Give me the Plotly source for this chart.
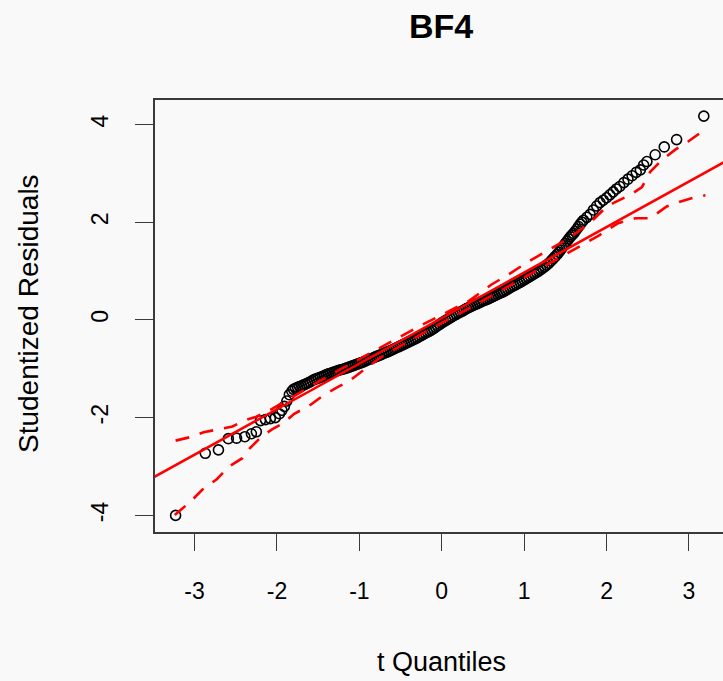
import plotly.graph_objects as go

# t quantiles (theoretical) and sorted studentized residuals
t_quantiles = [
    -3.23, -2.87, -2.71, -2.59, -2.49, -2.39, -2.31, -2.25, -2.20, -2.14,
    -2.08, -2.02, -1.97, -1.94, -1.91, -1.88, -1.85, -1.82,
    -1.800, -1.775, -1.750, -1.725, -1.700, -1.675, -1.650, -1.625, -1.600, -1.575,
    -1.550, -1.525, -1.500, -1.475, -1.450, -1.425, -1.400, -1.375, -1.350, -1.325,
    -1.300, -1.275, -1.250, -1.225, -1.200, -1.175, -1.150, -1.125, -1.100, -1.075,
    -1.050, -1.025, -1.000, -0.975, -0.950, -0.925, -0.900, -0.875, -0.850, -0.825,
    -0.800, -0.775, -0.750, -0.725, -0.700, -0.675, -0.650, -0.625, -0.600, -0.575,
    -0.550, -0.525, -0.500, -0.475, -0.450, -0.425, -0.400, -0.375, -0.350, -0.325,
    -0.300, -0.275, -0.250, -0.225, -0.200, -0.175, -0.150, -0.125, -0.100, -0.075,
    -0.050, -0.025, 0.000, 0.025, 0.050, 0.075, 0.100, 0.125, 0.150, 0.175,
    0.200, 0.225, 0.250, 0.275, 0.300, 0.325, 0.350, 0.375, 0.400, 0.425,
    0.450, 0.475, 0.500, 0.525, 0.550, 0.575, 0.600, 0.625, 0.650, 0.675,
    0.700, 0.725, 0.750, 0.775, 0.800, 0.825, 0.850, 0.875, 0.900, 0.925,
    0.950, 0.975, 1.000, 1.025, 1.050, 1.075, 1.100, 1.125, 1.150, 1.175,
    1.200, 1.225, 1.250, 1.275, 1.300, 1.325, 1.350, 1.375, 1.400, 1.420,
    1.440, 1.460, 1.480, 1.500, 1.520, 1.540, 1.560, 1.580, 1.600, 1.620,
    1.640, 1.660, 1.680, 1.700, 1.720,
    1.76, 1.80, 1.84, 1.88, 1.92, 1.96, 2.00, 2.04, 2.08, 2.12,
    2.16, 2.21, 2.26, 2.31, 2.36, 2.41, 2.45, 2.49, 2.59, 2.70,
    2.85, 3.18,
]
residuals = [
    -4.00, -2.73, -2.66, -2.43, -2.42, -2.39, -2.33, -2.29, -2.06, -2.04,
    -2.02, -2.00, -1.92, -1.85, -1.77, -1.66, -1.53, -1.46,
    -1.420, -1.400, -1.380, -1.365, -1.350, -1.330, -1.310, -1.290, -1.270, -1.245,
    -1.220, -1.205, -1.190, -1.175, -1.160, -1.140, -1.120, -1.105, -1.090, -1.075,
    -1.060, -1.045, -1.030, -1.020, -1.010, -0.995, -0.980, -0.965, -0.950, -0.935,
    -0.920, -0.905, -0.890, -0.875, -0.860, -0.840, -0.820, -0.805, -0.790, -0.770,
    -0.750, -0.735, -0.720, -0.700, -0.680, -0.665, -0.650, -0.630, -0.610, -0.590,
    -0.570, -0.550, -0.530, -0.510, -0.490, -0.470, -0.450, -0.430, -0.410, -0.390,
    -0.370, -0.345, -0.320, -0.295, -0.270, -0.250, -0.230, -0.205, -0.180, -0.150,
    -0.120, -0.090, -0.060, -0.035, -0.010, 0.015, 0.040, 0.065, 0.090, 0.115,
    0.140, 0.160, 0.180, 0.205, 0.230, 0.250, 0.270, 0.290, 0.310, 0.330,
    0.350, 0.370, 0.390, 0.405, 0.420, 0.440, 0.460, 0.480, 0.500, 0.520,
    0.540, 0.560, 0.580, 0.605, 0.630, 0.655, 0.680, 0.700, 0.720, 0.745,
    0.770, 0.795, 0.820, 0.845, 0.870, 0.895, 0.920, 0.945, 0.970, 1.000,
    1.030, 1.060, 1.090, 1.125, 1.160, 1.205, 1.250, 1.295, 1.340, 1.385,
    1.430, 1.475, 1.520, 1.565, 1.610, 1.655, 1.700, 1.735, 1.770, 1.815,
    1.860, 1.910, 1.960, 2.000, 2.040,
    2.10, 2.16, 2.25, 2.33, 2.40, 2.45, 2.50, 2.56, 2.62, 2.68,
    2.73, 2.81, 2.88, 2.95, 3.02, 3.07, 3.17, 3.24, 3.38, 3.54,
    3.69, 4.17,
]

# reference line (intercept, slope)
line_intercept = 0.037
line_slope = 0.932
line_x = [-3.6, 3.6]

# pointwise confidence envelope
upper_x = [-3.23, -3.03, -2.89, -2.69, -2.54, -2.38, -2.25, -2.08, -1.90, -1.70,
           -1.50, -1.25, -1.00, -0.75, -0.50, -0.25, 0.00, 0.34, 0.60, 0.81,
           1.03, 1.29, 1.56, 1.80, 1.96, 2.08, 2.29, 2.43, 2.53, 2.67,
           2.83, 2.99, 3.18]
upper_y = [-2.47, -2.39, -2.30, -2.24, -2.18, -2.05, -1.98, -1.84, -1.66, -1.46,
           -1.27, -1.03, -0.80, -0.56, -0.33, -0.11, 0.10, 0.40, 0.72, 0.93,
           1.17, 1.42, 1.69, 1.99, 2.25, 2.39, 2.56, 2.72, 3.03, 3.27,
           3.48, 3.65, 3.88]
lower_x = [-3.24, -3.05, -2.91, -2.73, -2.58, -2.42, -2.33, -2.19, -2.06, -1.92,
           -1.79, -1.62, -1.45, -1.27, -1.13, -0.97, -0.77, -0.50, -0.25, 0.00,
           0.40, 0.80, 1.20, 1.60, 1.90, 2.14, 2.35, 2.53, 2.73, 2.89,
           3.09, 3.20]
lower_y = [-3.99, -3.72, -3.48, -3.26, -3.00, -2.83, -2.63, -2.39, -2.24, -2.11,
           -1.92, -1.77, -1.56, -1.38, -1.26, -1.05, -0.80, -0.53, -0.29, -0.06,
           0.30, 0.68, 1.06, 1.44, 1.72, 1.98, 2.08, 2.08, 2.32, 2.42,
           2.52, 2.55]

x_ticks = [-3, -2, -1, 0, 1, 2, 3]
y_ticks = [-4, -2, 0, 2, 4]

RED = "#ff0000"
FONT = "Liberation Sans, Arial, sans-serif"
BG = "#f9f9f9"
AXC = "#3a3a3a"

fig = go.Figure()
fig.add_trace(go.Scatter(
    x=t_quantiles, y=residuals, mode="markers",
    marker=dict(symbol="circle-open", size=10, color="black",
                line=dict(width=1.6, color="black")),
    hoverinfo="x+y", showlegend=False,
))
fig.add_trace(go.Scatter(
    x=line_x, y=[line_intercept + line_slope * v for v in line_x],
    mode="lines", line=dict(color=RED, width=2.6), showlegend=False,
))
for ex, ey in ((upper_x, upper_y), (lower_x, lower_y)):
    fig.add_trace(go.Scatter(
        x=ex, y=ey, mode="lines",
        line=dict(color=RED, width=2.6, dash="14px,11px"),
        showlegend=False,
    ))

fig.update_layout(
    width=723, height=681,
    margin=dict(l=155, r=0, t=100, b=149, pad=0),
    paper_bgcolor=BG, plot_bgcolor=BG,
    font=dict(family=FONT, color="black"),
    xaxis=dict(
        range=[-3.48, 3.413], tickvals=x_ticks,
        ticktext=[str(v) for v in x_ticks],
        ticks="outside", ticklen=17, tickwidth=1.3, tickcolor=AXC,
        showline=True, linecolor=AXC, linewidth=1.6, mirror=True,
        showgrid=False, zeroline=False,
        tickfont=dict(size=23, family=FONT), ticklabelstandoff=21,
    ),
    yaxis=dict(
        range=[-4.34, 4.5], tickvals=y_ticks,
        ticktext=[str(v) for v in y_ticks],
        ticks="outside", ticklen=18, tickwidth=1.3, tickcolor=AXC,
        showline=True, linecolor=AXC, linewidth=1.6, mirror=False,
        showgrid=False, zeroline=False, tickangle=-90,
        tickfont=dict(size=23, family=FONT), ticklabelstandoff=18,
    ),
    annotations=[
        dict(text="<b>BF4</b>", xref="paper", yref="paper",
             x=(441 - 155) / 568, y=(532 - 26) / 432,
             xanchor="center", yanchor="middle", showarrow=False,
             font=dict(size=34, family=FONT)),
        dict(text="t Quantiles", xref="paper", yref="paper",
             x=(441 - 155) / 568, y=(532 - 662) / 432,
             xanchor="center", yanchor="middle", showarrow=False,
             font=dict(size=27, family=FONT)),
        dict(text="Studentized Residuals", xref="paper", yref="paper",
             x=(28 - 155) / 568, y=(532 - 314) / 432, textangle=-90,
             xanchor="center", yanchor="middle", showarrow=False,
             font=dict(size=28, family=FONT)),
    ],
)

fig.write_html("out.html")
